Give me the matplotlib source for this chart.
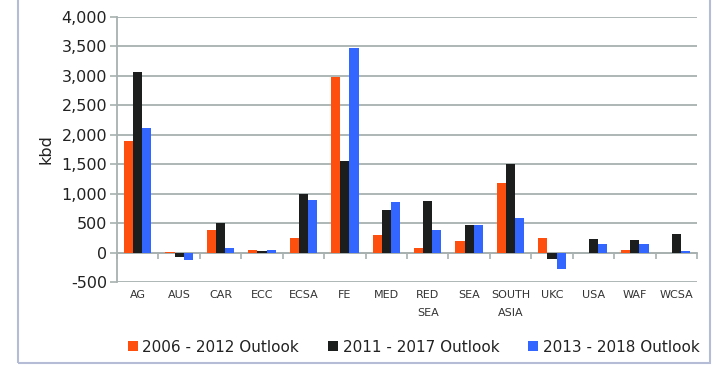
import matplotlib
matplotlib.use("Agg")
import matplotlib.pyplot as plt
import numpy as np
from matplotlib.patches import Rectangle
from matplotlib.ticker import FuncFormatter, MultipleLocator

# data (kbd)
regions = ["AG", "AUS", "CAR", "ECC", "ECSA", "FE", "MED", "RED\nSEA", "SEA",
           "SOUTH\nASIA", "UKC", "USA", "WAF", "WCSA"]
outlook_2006_2012 = [1890, 10, 380, 40, 240, 2980, 300, 80, 200, 1180, 240, 0, 50, 0]
outlook_2011_2017 = [3060, -80, 500, 20, 990, 1560, 720, 870, 460, 1510, -110, 230, 220, 310]
outlook_2013_2018 = [2120, -130, 80, 40, 900, 3480, 860, 390, 470, 580, -280, 140, 150, 20]
series_labels = ["2006 - 2012 Outlook", "2011 - 2017 Outlook", "2013 - 2018 Outlook"]
colors = ["#FF4F0F", "#1C1E1E", "#3366FF"]

grid_c = "#A8B0B0"

fig = plt.figure(figsize=(7.12, 3.66), dpi=100)
ax = fig.add_axes([117 / 712, 1 - 282 / 366, 580 / 712, 265 / 366])

x = np.arange(len(regions))
w = 0.22
for i, (vals, lab, c) in enumerate(zip([outlook_2006_2012, outlook_2011_2017, outlook_2013_2018],
                                       series_labels, colors)):
    ax.bar(x + (i - 1) * w, vals, w, color=c, label=lab, zorder=3)

ax.set_xlim(-0.5, len(regions) - 0.5)
ax.set_ylim(-500, 4000)
ax.yaxis.set_major_locator(MultipleLocator(500))
ax.yaxis.set_major_formatter(FuncFormatter(lambda v, p: f"{v:,.0f}"))
ax.grid(axis="y", color=grid_c, linewidth=1.3, zorder=0)
ax.tick_params(axis="y", length=5, color=grid_c, width=1.2, labelsize=11.5,
               labelcolor="#222222", pad=2)

ax.set_xticks(x)
ax.set_xticklabels(regions, fontsize=8, color="#333333", linespacing=1.9, va="top")
ax.tick_params(axis="x", length=0, pad=6)

for s in ["top", "right", "bottom"]:
    ax.spines[s].set_visible(False)
ax.spines["left"].set_color(grid_c)
ax.spines["left"].set_linewidth(1.3)

# zero axis with ticks between categories
zero = ax.secondary_xaxis(0, transform=ax.transData)
zero.set_xticks(np.arange(len(regions) + 1) - 0.5)
zero.set_xticklabels([])
zero.tick_params(length=4, color=grid_c, width=1.2)
zero.spines["bottom"].set_color(grid_c)
zero.spines["bottom"].set_linewidth(1.3)

ax.set_ylabel("kbd", fontsize=11.5, labelpad=6, color="#222222")

leg = fig.legend(loc="center", bbox_to_anchor=(0.581, 1 - 347 / 366), ncol=3,
                 frameon=False, prop={"size": 11},
                 handlelength=0.65, handleheight=0.65, handletextpad=0.3,
                 columnspacing=1.9)
for t in leg.get_texts():
    t.set_color("#222222")

fig.patches.append(Rectangle((18 / 712, 3 / 366), 692 / 712, 1.2, transform=fig.transFigure,
                             fill=False, edgecolor="#B4BCD6", linewidth=1.5))

fig.savefig("out.png", dpi=100)
